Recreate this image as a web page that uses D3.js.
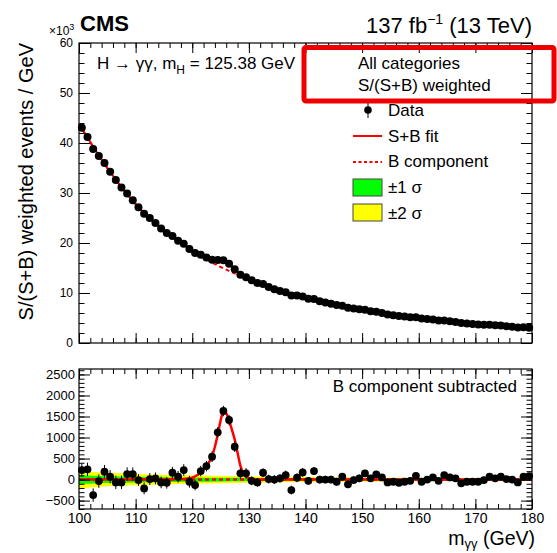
<!DOCTYPE html>
<html>
<head>
<meta charset="utf-8">
<title>H to gamma gamma, S/(S+B) weighted mass</title>
<script src="https://cdn.jsdelivr.net/npm/d3@7"></script>
<style>
body{margin:0;background:#fff;}
svg text{font-family:"Liberation Sans",Arial,Helvetica,sans-serif;fill:#000;}
</style>
</head>
<body>
<div id="chart"></div>
<script>
var w=557,h=553;

// 1 GeV bins, centres
var massBins=[100.5,101.5,102.5,103.5,104.5,105.5,106.5,107.5,108.5,109.5,
110.5,111.5,112.5,113.5,114.5,115.5,116.5,117.5,118.5,119.5,
120.5,121.5,122.5,123.5,124.5,125.5,126.5,127.5,128.5,129.5,
130.5,131.5,132.5,133.5,134.5,135.5,136.5,137.5,138.5,139.5,
140.5,141.5,142.5,143.5,144.5,145.5,146.5,147.5,148.5,149.5,
150.5,151.5,152.5,153.5,154.5,155.5,156.5,157.5,158.5,159.5,
160.5,161.5,162.5,163.5,164.5,165.5,166.5,167.5,168.5,169.5,
170.5,171.5,172.5,173.5,174.5,175.5,176.5,177.5,178.5,179.5];

// weighted events / GeV (x10^3)
var weighted=[43.06,41.19,38.78,37.39,35.98,34.27,32.58,31.10,29.88,28.53,
27.16,25.84,24.99,23.99,22.90,21.98,21.38,20.47,19.85,18.82,
18.01,17.64,17.09,16.66,16.62,16.57,15.86,14.73,13.63,13.17,
12.53,12.01,11.78,11.19,10.76,10.41,10.17,9.50,9.48,9.32,
8.84,8.81,8.35,8.11,7.87,7.58,7.45,7.04,6.92,6.74,
6.65,6.35,6.26,6.01,5.72,5.57,5.40,5.29,5.17,5.16,
4.88,4.80,4.72,4.51,4.52,4.35,4.21,3.99,3.92,3.82,
3.72,3.67,3.66,3.54,3.49,3.35,3.25,3.09,3.14,3.07];

// data minus B component
var subtracted=[226,243,-369,-36,186,67,-67,-67,131,131,
-12,-210,12,29,-67,-76,162,67,226,-52,
-131,202,321,543,1124,1631,1417,781,148,148,
-29,-67,162,12,0,29,107,-250,43,171,
-29,202,0,0,0,-52,67,-114,-12,29,
148,29,124,52,-67,-52,-76,-52,-29,90,
-52,0,52,-29,107,52,29,-90,-52,-52,
-52,-12,67,29,67,12,0,-67,67,83];

// stat. error for each 10 GeV range
var errByDecade=[160,140,125,105,90,75,65,60];

// B component (x10^3)
var bgMass=[100,105,110,115,120,125,130,135,140,145,150,155,160,165,170,175,180];
var bgVals=[43.8,35.0,27.75,22.5,18.5,15.2,12.8,10.55,9.0,7.75,6.6,5.7,5.0,4.35,3.82,3.38,2.95];

// S+B fit (x10^3)
var sbMass=[100,105,110,115,117,118,119,120,121,122,123,123.5,124,124.5,125,125.5,126,126.5,127,127.5,128,128.5,129,129.5,130,131,132,135,140,145,150,155,160,165,170,175,180];
var sbVals=[43.8,35.0,27.75,22.5,20.81,20.02,19.26,18.55,17.91,17.34,16.86,16.68,16.59,16.57,16.60,16.57,16.27,15.84,15.38,14.90,14.36,13.81,13.40,13.09,12.84,12.32,11.85,10.55,9.0,7.75,6.6,5.7,5.0,4.35,3.82,3.38,2.95];

// signal part, lower pad
var sigMass=[100,115,117,118,119,120,121,122,123,123.5,124,124.5,125,125.5,126,126.5,127,127.5,128,128.5,129,129.5,130,131,132,134,180];
var sigVals=[0,0,5,10,22,45,115,235,420,560,780,1070,1400,1630,1580,1400,1190,950,640,330,150,70,35,10,3,0,0];

// B uncertainty bands (half widths)
var bandMass=[100,105,110,115,120,125,130,140,150,160,170,180];
var band2=[210,160,135,115,100,85,75,60,50,42,36,32];
var band1=[105,80,68,58,50,43,38,30,25,21,18,16];

var xTicks=[100,110,120,130,140,150,160,170,180];
var topYTicks=[0,10,20,30,40,50,60];
var botYTicks=[-500,0,500,1000,1500,2000,2500];

var svg=d3.select('#chart').append('svg')
  .attr('width',w)
  .attr('height',h);

svg.append('rect').attr('width',w).attr('height',h).attr('fill','#fff');

var x=d3.scaleLinear().domain([100,180]).range([79,532]);
var yTop=d3.scaleLinear().domain([0,60]).range([343,43]);
var yBot=d3.scaleLinear().domain([-700,2630]).range([509,369]);

function errOf(i){
  return errByDecade[Math.floor((massBins[i]-100)/10)];
}

// ---- lower pad contents ----
var gb=svg.append('g');

gb.append('path')
  .datum(bandMass)
  .attr('fill','#ffff00')
  .attr('d',d3.area()
    .x(function(d){return x(d);})
    .y0(function(d,i){return yBot(-band2[i]);})
    .y1(function(d,i){return yBot(band2[i]);})
    .curve(d3.curveMonotoneX));

gb.append('path')
  .datum(bandMass)
  .attr('fill','#00ff00')
  .attr('d',d3.area()
    .x(function(d){return x(d);})
    .y0(function(d,i){return yBot(-band1[i]);})
    .y1(function(d,i){return yBot(band1[i]);})
    .curve(d3.curveMonotoneX));

gb.append('line')
  .attr('x1',x(100)).attr('x2',x(180))
  .attr('y1',yBot(0)).attr('y2',yBot(0))
  .attr('stroke','#ff0000')
  .attr('stroke-width',2.5)
  .attr('stroke-dasharray','4,3');

gb.append('path')
  .datum(sigMass)
  .attr('fill','none')
  .attr('stroke','#ff0000')
  .attr('stroke-width',2.5)
  .attr('d',d3.line()
    .x(function(d){return x(d);})
    .y(function(d,i){return yBot(sigVals[i]);})
    .curve(d3.curveMonotoneX));

gb.selectAll('line.err')
  .data(subtracted)
  .enter()
  .append('line')
  .attr('class','err')
  .attr('x1',function(d,i){return x(massBins[i]);})
  .attr('x2',function(d,i){return x(massBins[i]);})
  .attr('y1',function(d,i){return yBot(d-errOf(i));})
  .attr('y2',function(d,i){return yBot(d+errOf(i));})
  .attr('stroke','#000')
  .attr('stroke-width',1);

gb.selectAll('circle')
  .data(subtracted)
  .enter()
  .append('circle')
  .attr('cx',function(d,i){return x(massBins[i]);})
  .attr('cy',function(d){return yBot(d);})
  .attr('r',3.9)
  .attr('fill','#000');

// ---- upper pad contents ----
var gt=svg.append('g');

gt.append('path')
  .datum(bgMass)
  .attr('fill','none')
  .attr('stroke','#ff0000')
  .attr('stroke-width',2)
  .attr('stroke-dasharray','4,3')
  .attr('d',d3.line()
    .x(function(d){return x(d);})
    .y(function(d,i){return yTop(bgVals[i]);})
    .curve(d3.curveMonotoneX));

gt.append('path')
  .datum(sbMass)
  .attr('fill','none')
  .attr('stroke','#ff0000')
  .attr('stroke-width',2)
  .attr('d',d3.line()
    .x(function(d){return x(d);})
    .y(function(d,i){return yTop(sbVals[i]);})
    .curve(d3.curveMonotoneX));

gt.selectAll('line.err')
  .data(weighted)
  .enter()
  .append('line')
  .attr('class','err')
  .attr('x1',function(d,i){return x(massBins[i]);})
  .attr('x2',function(d,i){return x(massBins[i]);})
  .attr('y1',function(d,i){return yTop(d-errOf(i)/1000);})
  .attr('y2',function(d,i){return yTop(d+errOf(i)/1000);})
  .attr('stroke','#000');

gt.selectAll('circle')
  .data(weighted)
  .enter()
  .append('circle')
  .attr('cx',function(d,i){return x(massBins[i]);})
  .attr('cy',function(d){return yTop(d);})
  .attr('r',4)
  .attr('fill','#000');

// ---- frames and inside ticks (ROOT style) ----
function pad(y,yMajor,yStep,xLabels,yFont,yPad){
  var top=y.range()[1],bot=y.range()[0];
  var xMinor=d3.range(100,181,2);
  var yMinor=d3.range(Math.ceil(y.domain()[0]/yStep)*yStep,y.domain()[1]+0.001,yStep);

  function tk(axis,tx,ty,vals,len,fmt){
    var g=svg.append('g')
      .attr('transform','translate('+tx+','+ty+')')
      .call(axis.tickValues(vals).tickSize(-len).tickPadding(0).tickFormat(fmt||''));
    g.select('.domain').remove();
    g.selectAll('line').attr('stroke','#000').attr('stroke-width',1);
    return g;
  }
  tk(d3.axisBottom(x),0,bot,xMinor,5);
  tk(d3.axisTop(x),0,top,xMinor,5);
  tk(d3.axisTop(x),0,top,xTicks,10);
  var xb=tk(d3.axisBottom(x),0,bot,xTicks,10,xLabels?d3.format('d'):'');
  if(xLabels){
    xb.selectAll('text').attr('y',4).attr('dy','0.71em').attr('font-size',14);
  }
  tk(d3.axisLeft(y),x(100),0,yMinor,5.5);
  tk(d3.axisRight(y),x(180),0,yMinor,5.5);
  tk(d3.axisRight(y),x(180),0,yMajor,11);
  var yl=tk(d3.axisLeft(y),x(100),0,yMajor,11,function(d){return d<0?'\u2212'+(-d):d;});
  yl.selectAll('text').attr('x',-yPad).attr('font-size',yFont);

  svg.append('rect')
    .attr('x',x(100)).attr('y',top)
    .attr('width',x(180)-x(100)).attr('height',bot-top)
    .attr('fill','none')
    .attr('stroke','#000')
    .attr('stroke-width',1.2);
}
pad(yTop,topYTicks,2,false,12,6);
pad(yBot,botYTicks,100,true,13,4);

// ---- texts ----
svg.append('text')
  .attr('x',80).attr('y',31)
  .attr('font-size',22).attr('font-weight','bold')
  .text('CMS');

var lumi=svg.append('text')
  .attr('x',532).attr('y',33)
  .attr('font-size',22)
  .attr('text-anchor','end');
lumi.append('tspan').text('137 fb');
lumi.append('tspan').attr('dy',-9).attr('font-size',14).text('\u22121');
lumi.append('tspan').attr('dy',9).text(' (13 TeV)');

var exp=svg.append('text')
  .attr('x',49).attr('y',35)
  .attr('font-size',12);
exp.append('tspan').text('\u00d710');
exp.append('tspan').attr('dy',-5).attr('font-size',9).text('3');

svg.append('text')
  .attr('transform','translate(33,43) rotate(-90)')
  .attr('font-size',20)
  .attr('text-anchor','end')
  .text('S/(S+B) weighted events / GeV');

var hl=svg.append('text')
  .attr('x',97).attr('y',69)
  .attr('font-size',17);
hl.append('tspan').text('H \u2192 \u03b3\u03b3, m');
hl.append('tspan').attr('dy',5).attr('font-size',12).text('H');
hl.append('tspan').attr('dy',-5).text(' = 125.38 GeV');

svg.append('text').attr('x',358).attr('y',69).attr('font-size',17).text('All categories');
svg.append('text').attr('x',358).attr('y',91).attr('font-size',17).text('S/(S+B) weighted');

// legend
var lg=svg.append('g');
lg.append('line').attr('x1',368).attr('x2',368).attr('y1',102).attr('y2',118).attr('stroke','#000');
lg.append('circle').attr('cx',368).attr('cy',110).attr('r',3.8).attr('fill','#000');
lg.append('text').attr('x',388).attr('y',116).attr('font-size',17).text('Data');

lg.append('line').attr('x1',353).attr('x2',382).attr('y1',136).attr('y2',136)
  .attr('stroke','#ff0000').attr('stroke-width',2);
lg.append('text').attr('x',388).attr('y',142).attr('font-size',17).text('S+B fit');

lg.append('line').attr('x1',353).attr('x2',382).attr('y1',162).attr('y2',162)
  .attr('stroke','#ff0000').attr('stroke-width',2).attr('stroke-dasharray','3,2.5');
lg.append('text').attr('x',388).attr('y',167).attr('font-size',17).text('B component');

lg.append('rect').attr('x',353).attr('y',179).attr('width',29).attr('height',17)
  .attr('fill','#00ff00').attr('stroke','#444');
lg.append('text').attr('x',388).attr('y',193).attr('font-size',17).text('\u00b11 \u03c3');

lg.append('rect').attr('x',353).attr('y',204).attr('width',29).attr('height',17)
  .attr('fill','#ffff00').attr('stroke','#444');
lg.append('text').attr('x',388).attr('y',219).attr('font-size',17).text('\u00b12 \u03c3');

svg.append('text')
  .attr('x',517).attr('y',392)
  .attr('font-size',17)
  .attr('text-anchor','end')
  .text('B component subtracted');

var xt=svg.append('text')
  .attr('x',535).attr('y',545)
  .attr('font-size',19.5)
  .attr('text-anchor','end');
xt.append('tspan').text('m');
xt.append('tspan').attr('dy',3).attr('font-size',13).text('\u03b3\u03b3');
xt.append('tspan').attr('dy',-3).text(' (GeV)');

// highlight box drawn over the legend header
svg.append('rect')
  .attr('x',304).attr('y',47.5)
  .attr('width',250).attr('height',53.5)
  .attr('rx',2)
  .attr('fill','none')
  .attr('stroke','#ee0000')
  .attr('stroke-width',5);
</script>
</body>
</html>
